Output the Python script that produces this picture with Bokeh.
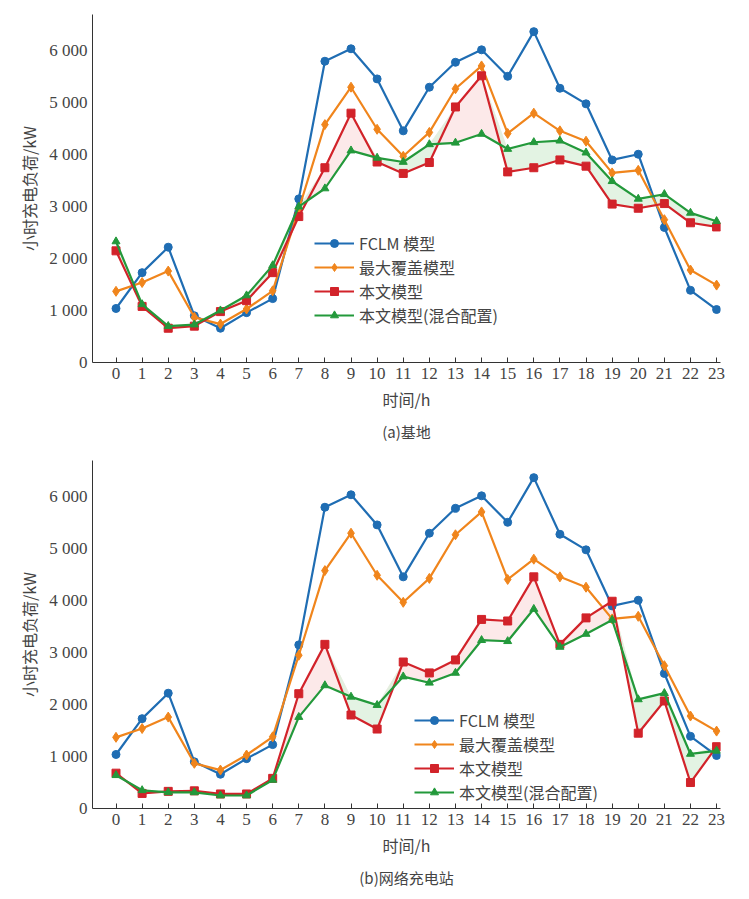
import numpy as np
from bokeh.plotting import figure
from bokeh.layouts import column
from bokeh.models import Title, Legend, LegendItem, FixedTicker
from bokeh.embed import file_html
from bokeh.resources import INLINE

hours = list(range(24))
fclm = [1040,1730,2220,900,660,960,1230,3150,5800,6040,5460,4460,5300,5780,6020,5510,6370,5280,4980,3900,4010,2600,1390,1020]
maxcov = [1370,1540,1760,870,740,1030,1380,2950,4580,5300,4490,3970,4430,5270,5710,4410,4800,4460,4260,3650,3700,2750,1780,1490]
ours_a = [2150,1080,660,700,980,1190,1730,2810,3750,4800,3860,3640,3850,4920,5520,3670,3750,3900,3780,3050,2970,3060,2690,2610]
mixed_a = [2330,1120,700,730,1000,1290,1870,3000,3350,4080,3940,3860,4200,4230,4400,4110,4240,4270,4040,3490,3150,3240,2880,2720]
ours_b = [680,290,330,340,280,280,580,2210,3160,1800,1530,2820,2610,2860,3640,3610,4460,3160,3670,3990,1450,2070,500,1190]
mixed_b = [640,350,310,310,250,250,550,1760,2370,2150,1990,2540,2420,2610,3240,3220,3840,3110,3360,3630,2100,2220,1050,1110]
yticks = [0,1000,2000,3000,4000,5000,6000]
ylabels = {0:"0",1000:"1 000",2000:"2 000",3000:"3 000",4000:"4 000",5000:"5 000",6000:"6 000"}
names = ["FCLM 模型","最大覆盖模型","本文模型","本文模型(混合配置)"]
cols = ["#1f6db3","#f0851c","#d2232a","#23993b"]
SERIF = "Liberation Serif"
CJK = "Noto Sans CJK SC"

def make(ours, mixed, caption, legloc):
    p = figure(frame_width=628, frame_height=348, output_backend="svg", toolbar_location=None,
               x_range=(-0.9, 23.15), y_range=(0, 6700), min_border_left=92, min_border_top=14,
               min_border_right=10)
    p.outline_line_color = None
    p.grid.visible = False
    o = np.array(ours); m = np.array(mixed); mx = np.maximum(o, m)
    p.varea(x=hours, y1=m, y2=mx, fill_color="#fbe3e3", fill_alpha=0.8)
    p.varea(x=hours, y1=o, y2=mx, fill_color="#dcf0dc", fill_alpha=0.8)
    items = []
    for d, c, mk, n in zip([fclm, maxcov, ours, mixed], cols, ["circle","diamond","square","triangle"], names):
        l = p.line(hours, d, line_color=c, line_width=2.2)
        s = p.scatter(hours, d, marker=mk, size=8 if mk != "diamond" else 10, color=c)
        items.append(LegendItem(label=n, renderers=[l, s]))
    leg = Legend(items=items, location=legloc, background_fill_alpha=0, border_line_color=None,
                 label_text_font=CJK, label_text_font_size="16px", spacing=0, padding=2,
                 glyph_width=40, label_height=22)
    p.add_layout(leg, "center")
    p.xaxis.ticker = FixedTicker(ticks=hours)
    p.yaxis.ticker = FixedTicker(ticks=yticks)
    p.yaxis.major_label_overrides = ylabels
    for ax in (p.xaxis, p.yaxis):
        ax.major_label_text_font = SERIF
        ax.major_label_text_font_size = "17px"
        ax.axis_label_text_font = CJK
        ax.axis_label_text_font_size = "16px"
        ax.axis_label_text_font_style = "normal"
        ax.minor_tick_line_color = None
        ax.major_tick_in = 5
        ax.major_tick_out = 0
        ax.axis_line_color = "#333333"
        ax.major_tick_line_color = "#333333"
    p.yaxis.major_tick_line_color = None
    p.xaxis.axis_label = "时间/h"
    p.yaxis.axis_label = "小时充电负荷/kW"
    p.add_layout(Title(text=caption, align="center", text_font=CJK, text_font_size="15px",
                       text_font_style="normal"), "below")
    return p

p1 = make(ours_a, mixed_a, "(a)基地", (222, 35))
p2 = make(ours_b, mixed_b, "(b)网络充电站", (322, 4))
lay = column(p1, p2, spacing=0)
open("out.html", "w").write(file_html(lay, INLINE))
